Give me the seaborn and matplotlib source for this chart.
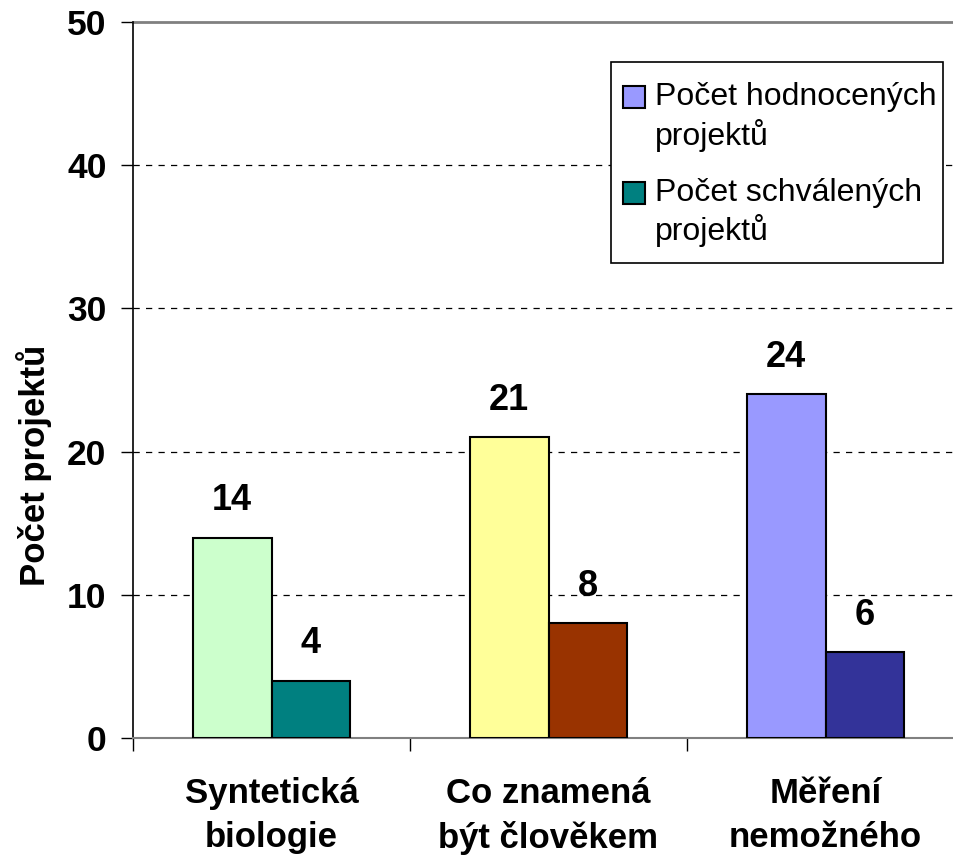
import matplotlib
matplotlib.use("Agg")
import matplotlib.pyplot as plt
import seaborn as sns
import pandas as pd
from matplotlib.patches import Patch, Rectangle
from matplotlib.legend_handler import HandlerPatch

categories = ["Syntetická\nbiologie", "Co znamená\nbýt člověkem", "Měření\nnemožného"]
hodnocene = [14, 21, 24]
schvalene = [4, 8, 6]
series_names = ["Počet hodnocených\nprojektů", "Počet schválených\nprojektů"]
colors_hodn = ["#CCFFCC", "#FFFF99", "#9999FF"]
colors_schv = ["#008080", "#993300", "#333399"]
yticks = [0, 10, 20, 30, 40, 50]

sns.set_theme(style="white")
plt.rcParams['font.family'] = ['Liberation Sans', 'DejaVu Sans']
plt.rcParams.update({"text.color": "black", "axes.labelcolor": "black",
                     "xtick.color": "black", "ytick.color": "black"})

df = pd.DataFrame({
    "cat": categories * 2,
    "val": hodnocene + schvalene,
    "series": [series_names[0]] * 3 + [series_names[1]] * 3,
})

W, H = 954, 856
fig = plt.figure(figsize=(W / 100, H / 100), dpi=100)
AX_L, AX_R, AX_T, AX_B = 133, 964, 22, 738
ax = fig.add_axes([AX_L / W, (H - AX_B) / H, (AX_R - AX_L) / W, (AX_B - AX_T) / H])

def ax_xy(px, py):
    return ((px - AX_L) / (AX_R - AX_L), (AX_B - py) / (AX_B - AX_T))

sns.barplot(data=df, x="cat", y="val", hue="series", order=categories,
            hue_order=series_names, width=0.57, dodge=True, ax=ax,
            errorbar=None, legend=False, palette=["#9999FF", "#008080"],
            edgecolor="black", linewidth=1.5, zorder=3)

for cont, cols in zip(ax.containers, [colors_hodn, colors_schv]):
    for patch, c in zip(cont, cols):
        patch.set_facecolor(c)
        patch.set_edgecolor("black")
    ax.bar_label(cont, fmt="%d", padding=14, fontsize=26, fontweight="bold")

ax.set_xlim(-0.5, 2.5)
ax.set_ylim(0, 50)
ax.set_yticks(yticks)
ax.set_yticklabels([str(t) for t in yticks], fontsize=25.5, fontweight="bold")
for t in [10, 20, 30, 40]:
    ax.axhline(t, color="black", linestyle=(0, (5, 5)), linewidth=0.9, zorder=1)
ax.axhline(50, color="#808080", linewidth=2, zorder=1, clip_on=False)

ax.set_xticks([-0.5, 0.5, 1.5, 2.5])
ax.set_xticklabels([])
for i, c in enumerate(categories):
    ax.text(i, -2.7, c, ha="center", va="top", fontsize=25, fontweight="bold",
            linespacing=1.42)

ax.tick_params(axis="y", direction="out", length=9, width=1, color="black", pad=10, left=True)
ax.tick_params(axis="x", direction="out", length=9, width=1, color="black", bottom=True)

for s in ["top", "right"]:
    ax.spines[s].set_visible(False)
ax.spines["left"].set_color("black")
ax.spines["left"].set_linewidth(1.2)
ax.spines["bottom"].set_color("#808080")
ax.spines["bottom"].set_linewidth(1.5)

ax.set_xlabel("")
ax.set_ylabel("Počet projektů", fontsize=25, fontweight="bold")
ax.yaxis.set_label_coords(*ax_xy(52, 465))

# legend frame drawn as a box
x0, y0 = ax_xy(611, 263)
x1, y1 = ax_xy(943, 62)
ax.add_patch(Rectangle((x0, y0), x1 - x0, y1 - y0, transform=ax.transAxes,
                       facecolor="white", edgecolor="black", linewidth=1.2,
                       clip_on=False, zorder=5))

def top_square(legend, orig_handle, xdescent, ydescent, width, height, fontsize):
    return Rectangle((-xdescent, -ydescent + 0.62 * fontsize), width, height)

handles = [Patch(facecolor="#9999FF", edgecolor="black", linewidth=1.5),
           Patch(facecolor="#008080", edgecolor="black", linewidth=1.5)]
leg = ax.legend(handles, series_names, loc="upper left",
                bbox_to_anchor=ax_xy(623, 82),
                fontsize=23, frameon=False,
                handler_map={Patch: HandlerPatch(patch_func=top_square)},
                handlelength=0.7, handleheight=0.7, handletextpad=0.3,
                labelspacing=0.82, borderpad=0, borderaxespad=0)
leg.set_zorder(6)
for t in leg.get_texts():
    t.set_linespacing(1.25)

fig.savefig("out.png", dpi=100, facecolor="white")
